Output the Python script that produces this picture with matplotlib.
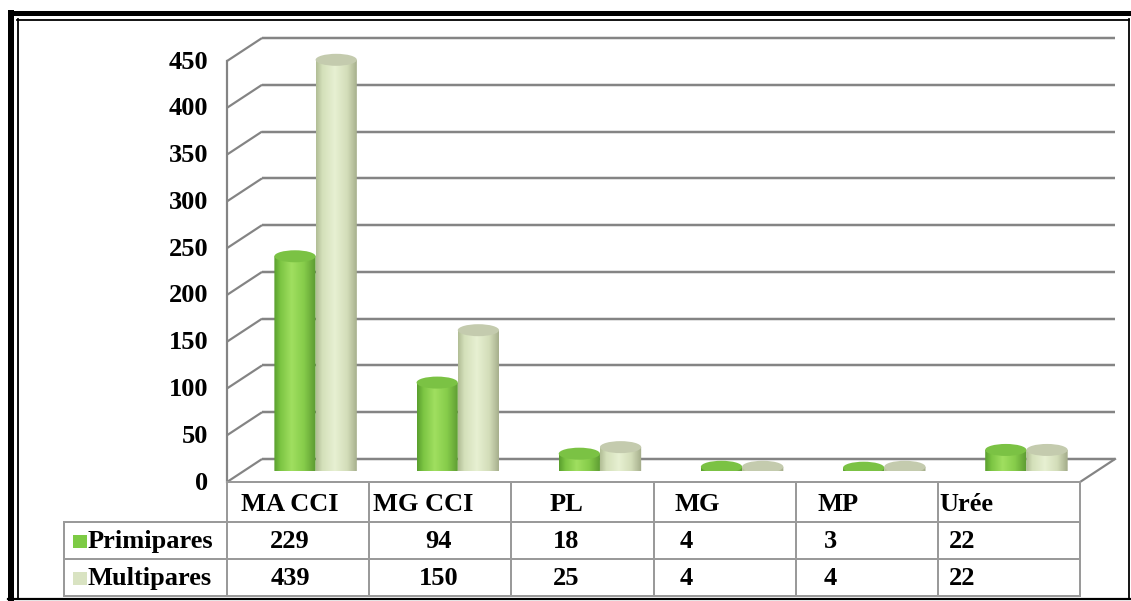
import numpy as np
import matplotlib
matplotlib.use("Agg")
import matplotlib.pyplot as plt
from matplotlib.patches import Ellipse, PathPatch
from matplotlib.path import Path
from matplotlib.colors import to_rgb

# ---- data ----
categories = ["MA CCI", "MG CCI", "PL", "MG", "MP", "Urée"]
series_names = ["Primipares", "Multipares"]
primipares = [229, 94, 18, 4, 3, 22]
multipares = [439, 150, 25, 4, 4, 22]
y_ticks = [0, 50, 100, 150, 200, 250, 300, 350, 400, 450]

# ---- styling ----
W, H, DPI = 1131, 601, 100
FONT = dict(family="Liberation Serif", weight="bold", size=19, color="black")
GRID_C = "#848484"
TABLE_C = "#9a9a9a"
DX, DY = 35, -23          # depth offset of the 3D box (front -> back), pixels
CAP_PX = 12               # height of the cylinder ellipses, pixels
BAR_W = 0.29

green_stops = [(0.0, "#5a9f2e"), (0.15, "#7cc543"), (0.42, "#a0df60"),
               (0.72, "#86cc4a"), (1.0, "#5c9a32")]
pale_stops = [(0.0, "#b2be96"), (0.15, "#d4e0ba"), (0.45, "#e7f0d2"),
              (0.75, "#d3ddb9"), (1.0, "#a3ab89")]
cap_colors = ["#7bc244", "#c4cbae"]
key_colors = ["#7dcb45", "#d9e3c2"]

fig = plt.figure(figsize=(W / DPI, H / DPI), dpi=DPI)
fig.patch.set_facecolor("white")

# decoration layer in pixel coordinates (origin top-left)
deco = fig.add_axes([0, 0, 1, 1], zorder=0)
deco.set_xlim(0, W)
deco.set_ylim(H, 0)
deco.axis("off")

# data layer: the mid-depth plane where the cylinders stand
ax = fig.add_axes([0.2162, 0.2171, 0.7542, 0.7005], zorder=1)
ax.set_xlim(-0.5, len(categories) - 0.5)
ax.set_ylim(0, 450)
ax.axis("off")
ax.patch.set_alpha(0)


def to_px(x, y):
    px, py = ax.transData.transform((x, y))
    return px, H - py


px_per_unit = (to_px(0, 0)[1] - to_px(0, 450)[1]) / 450.0
cap_h = CAP_PX / px_per_unit

# ---- 3D walls and gridlines ----
lw_px = 0.72
x_left_mid = to_px(-0.5, 0)[0]
x_right_mid = to_px(len(categories) - 0.5, 0)[0]
for v in y_ticks:
    _, my = to_px(0, v)
    fx, fy = x_left_mid - DX / 2, my - DY / 2
    bx, by = x_left_mid + DX / 2, my + DY / 2
    deco.plot([fx, bx], [fy, by], color=GRID_C, lw=2.2 * lw_px, solid_capstyle="butt")
    deco.plot([bx, x_right_mid + DX / 2], [by, by], color=GRID_C, lw=2.5 * lw_px,
              solid_capstyle="butt")
    deco.text(fx - 19, fy + 1, str(v), ha="right", va="center", **FONT)

_, my0 = to_px(0, 0)
_, my450 = to_px(0, 450)
front_x0 = x_left_mid - DX / 2
front_x1 = x_right_mid - DX / 2
front_y0 = my0 - DY / 2
deco.plot([front_x0, front_x0], [my450 - DY / 2, front_y0], color=GRID_C, lw=2.2 * lw_px)
deco.plot([front_x1, front_x1 + DX], [front_y0, front_y0 + DY], color=GRID_C, lw=2.2 * lw_px)


# ---- cylinders ----
def gradient_image(stops, n=64):
    pos = np.array([s[0] for s in stops])
    cols = np.array([to_rgb(s[1]) for s in stops])
    t = np.linspace(0, 1, n)
    rgb = np.stack([np.interp(t, pos, cols[:, k]) for k in range(3)], axis=-1)
    return rgb[np.newaxis, :, :]


def cylinder(rect, stops, cap_color):
    x0 = rect.get_x()
    w = rect.get_width()
    h = rect.get_height()
    x1 = x0 + w
    xc = x0 + w / 2
    # body outline: straight sides plus the lower half of the base ellipse
    theta = np.linspace(np.pi, 2 * np.pi, 40)
    arc = np.column_stack([xc + (w / 2) * np.cos(theta), (cap_h / 2) * np.sin(theta)])
    verts = np.vstack([[x0, h], [x0, 0], arc, [x1, 0], [x1, h], [x0, h]])
    codes = [Path.MOVETO] + [Path.LINETO] * (len(verts) - 2) + [Path.CLOSEPOLY]
    body = PathPatch(Path(verts, codes), facecolor="none", edgecolor="none",
                     transform=ax.transData)
    ax.add_patch(body)
    im = ax.imshow(gradient_image(stops), extent=[x0, x1, -cap_h / 2, h],
                   aspect="auto", interpolation="bilinear", origin="lower", zorder=2)
    im.set_clip_path(body)
    ax.add_patch(Ellipse((xc, h), w, cap_h, facecolor=cap_color,
                         edgecolor="none", zorder=3))


xpos = np.arange(len(categories))
bars_p = ax.bar(xpos - BAR_W / 2, primipares, width=BAR_W, color="none", edgecolor="none")
bars_m = ax.bar(xpos + BAR_W / 2, multipares, width=BAR_W, color="none", edgecolor="none")
for rect in bars_p:
    cylinder(rect, green_stops, cap_colors[0])
for rect in bars_m:
    cylinder(rect, pale_stops, cap_colors[1])
ax.set_xlim(-0.5, len(categories) - 0.5)
ax.set_ylim(0, 450)

# ---- data table ----
col_edges = [to_px(i - 0.5, 0)[0] - DX / 2 for i in range(len(categories) + 1)]
row_top = front_y0
row_hdr = row_top + 40
row_1 = row_hdr + 37
row_2 = row_1 + 37
label_left = 64

tl = 2.0 * lw_px
deco.plot([col_edges[0], col_edges[-1]], [row_top, row_top], color=TABLE_C, lw=tl)
for yy in (row_hdr, row_1, row_2):
    deco.plot([label_left, col_edges[-1]], [yy, yy], color=TABLE_C, lw=tl)
for xx in col_edges:
    deco.plot([xx, xx], [row_top, row_2], color=TABLE_C, lw=tl)
deco.plot([label_left, label_left], [row_hdr, row_2], color=TABLE_C, lw=tl)

header_anchor = [(63, "center"), (4, "left"), (55, "center"),
                 (44, "center"), (42, "center"), (2, "left")]
value_offset = [63, 69, 55, 33, 35, 24]

hdr_y = (row_top + row_hdr) / 2 + 2
for i, name in enumerate(categories):
    off, ha = header_anchor[i]
    deco.text(col_edges[i] + off, hdr_y, name, ha=ha, va="center", **FONT)

for r, (series, vals) in enumerate(zip(series_names, [primipares, multipares])):
    top = row_hdr if r == 0 else row_1
    bot = row_1 if r == 0 else row_2
    cy = (top + bot) / 2 + 1
    deco.add_patch(plt.Rectangle((73, cy - 7), 14, 13, facecolor=key_colors[r],
                                 edgecolor="none"))
    deco.text(88, cy, series, ha="left", va="center", **FONT)
    for i, v in enumerate(vals):
        deco.text(col_edges[i] + value_offset[i], cy, str(v), ha="center",
                  va="center", **FONT)

# ---- page frame ----
deco.plot([11, 11], [10, H], color="black", lw=6 * lw_px, solid_capstyle="butt")
deco.plot([8, W], [13, 13], color="black", lw=5 * lw_px, solid_capstyle="butt")
deco.plot([17.5, 17.5], [19, 598], color="black", lw=1.8 * lw_px)
deco.plot([17, 1128.5], [19.5, 19.5], color="black", lw=1.8 * lw_px)
deco.plot([1128.5, 1128.5], [19, 598], color="black", lw=1.8 * lw_px)
deco.plot([8, W], [598.5, 598.5], color="black", lw=2.2 * lw_px)

fig.savefig("out.png", dpi=DPI, facecolor="white")
